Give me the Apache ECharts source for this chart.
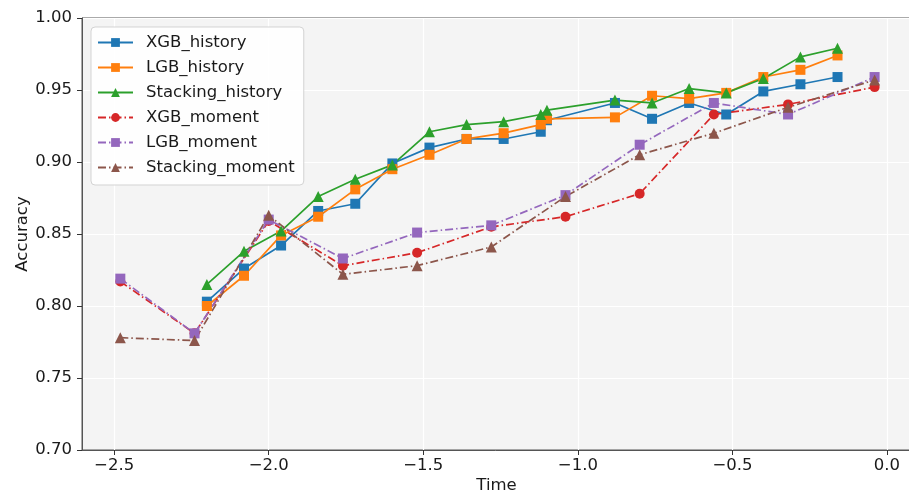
<!DOCTYPE html>
<html>
<head>
<meta charset="utf-8">
<script src="https://cdn.jsdelivr.net/npm/echarts@6/dist/echarts.min.js"></script>
<style>
html,body{margin:0;padding:0;background:#fff;}
#chart{width:909px;height:495px;}
</style>
</head>
<body>
<div id="chart"></div>
<script>
const historyTime = [-2.2, -2.08, -1.96, -1.84, -1.72, -1.6, -1.48, -1.36, -1.24, -1.12, -1.10, -0.88, -0.76, -0.64, -0.52, -0.40, -0.28, -0.16];
const xgbHistory   = [0.803, 0.826, 0.842, 0.866, 0.871, 0.899, 0.910, 0.916, 0.916, 0.921, 0.929, 0.941, 0.930, 0.941, 0.933, 0.949, 0.954, 0.959];
const lgbHistory   = [0.800, 0.821, 0.849, 0.862, 0.881, 0.895, 0.905, 0.916, 0.920, 0.926, 0.930, 0.931, 0.946, 0.944, 0.948, 0.959, 0.964, 0.974];
const stackHistory = [0.815, 0.838, 0.852, 0.876, 0.888, 0.898, 0.921, 0.926, 0.928, 0.933, 0.936, 0.943, 0.941, 0.951, 0.948, 0.958, 0.973, 0.979];

const momentTime  = [-2.48, -2.24, -2.0, -1.76, -1.52, -1.28, -1.04, -0.80, -0.56, -0.32, -0.04];
const xgbMoment   = [0.817, 0.781, 0.859, 0.828, 0.837, 0.855, 0.862, 0.878, 0.933, 0.940, 0.952];
const lgbMoment   = [0.819, 0.781, 0.860, 0.833, 0.851, 0.856, 0.877, 0.912, 0.941, 0.933, 0.959];
const stackMoment = [0.778, 0.776, 0.863, 0.822, 0.828, 0.841, 0.876, 0.905, 0.920, 0.938, 0.957];

const xTicks = [-2.5, -2.0, -1.5, -1.0, -0.5, 0.0];
const yTicks = [0.70, 0.75, 0.80, 0.85, 0.90, 0.95, 1.00];

const seriesNames = ['XGB_history', 'LGB_history', 'Stacking_history', 'XGB_moment', 'LGB_moment', 'Stacking_moment'];
const colors = ['#1f77b4', '#ff7f0e', '#2ca02c', '#d62728', '#9467bd', '#8c564b'];

function pairs(xs, ys) { return xs.map((x, i) => [x, ys[i]]); }

const FONT = 'DejaVu Sans';
const dashDot = [8, 3, 1.5, 3];

function mk(name, xs, ys, color, symbol, size, dashed) {
  return {
    name: name,
    type: 'line',
    data: pairs(xs, ys),
    symbol: symbol,
    symbolSize: size,
    showAllSymbol: true,
    lineStyle: { color: color, width: 1.7, type: dashed ? dashDot : 'solid' },
    itemStyle: { color: color, borderWidth: 0 },
    emphasis: { disabled: true }
  };
}

const chart = echarts.init(document.getElementById('chart'), null, { renderer: 'canvas' });
chart.setOption({
  animation: false,
  backgroundColor: '#ffffff',
  color: colors,
  grid: {
    left: 82, right: -2, top: 18, bottom: 45,
    containLabel: false,
    outerBoundsMode: 'none',
    show: true, backgroundColor: '#f4f4f4', borderColor: '#555', borderWidth: 1
  },
  legend: {
    orient: 'vertical',
    left: 91, top: 27,
    padding: [7, 9, 9, 6],
    itemWidth: 35, itemHeight: 11, itemGap: 8,
    backgroundColor: 'rgba(255,255,255,0.85)',
    borderColor: '#d3d3d3', borderWidth: 1, borderRadius: 4,
    textStyle: { fontFamily: FONT, fontSize: 16.5, color: '#1a1a1a', padding: [0, 0, 0, 8] },
    data: seriesNames
  },
  xAxis: {
    type: 'value',
    min: -2.604, max: 0.0777,
    name: 'Time', nameLocation: 'middle', nameGap: 27, nameMoveOverlap: false,
    nameTextStyle: { fontFamily: FONT, fontSize: 16.5, color: '#1a1a1a' },
    axisLine: { show: true, onZero: false, lineStyle: { color: '#555' } },
    axisTick: { show: true, length: 5, lineStyle: { color: '#333' }, customValues: xTicks },
    axisLabel: {
      fontFamily: FONT, fontSize: 16.5, color: '#1a1a1a', margin: 7,
      customValues: xTicks,
      formatter: v => (v < 0 ? '\u2212' : '') + Math.abs(v).toFixed(1)
    },
    splitLine: { show: true, lineStyle: { color: '#ffffff', width: 1.2 } }
  },
  yAxis: {
    type: 'value',
    min: 0.70, max: 1.00, interval: 0.05,
    name: 'Accuracy', nameLocation: 'middle', nameGap: 51, nameRotate: 90, nameMoveOverlap: false,
    nameTextStyle: { fontFamily: FONT, fontSize: 16.5, color: '#1a1a1a' },
    axisLine: { show: true, onZero: false, lineStyle: { color: '#555' } },
    axisTick: { show: true, length: 5, lineStyle: { color: '#333' } },
    axisLabel: {
      fontFamily: FONT, fontSize: 16.5, color: '#1a1a1a', margin: 10,
      formatter: v => v.toFixed(2)
    },
    splitLine: { show: true, lineStyle: { color: '#ffffff', width: 1.2 } }
  },
  series: [
    mk(seriesNames[0], historyTime, xgbHistory, colors[0], 'rect', 10, false),
    mk(seriesNames[1], historyTime, lgbHistory, colors[1], 'rect', 10, false),
    mk(seriesNames[2], historyTime, stackHistory, colors[2], 'triangle', 11, false),
    mk(seriesNames[3], momentTime, xgbMoment, colors[3], 'circle', 10, true),
    mk(seriesNames[4], momentTime, lgbMoment, colors[4], 'rect', 10, true),
    mk(seriesNames[5], momentTime, stackMoment, colors[5], 'triangle', 11, true)
  ]
});
</script>
</body>
</html>
